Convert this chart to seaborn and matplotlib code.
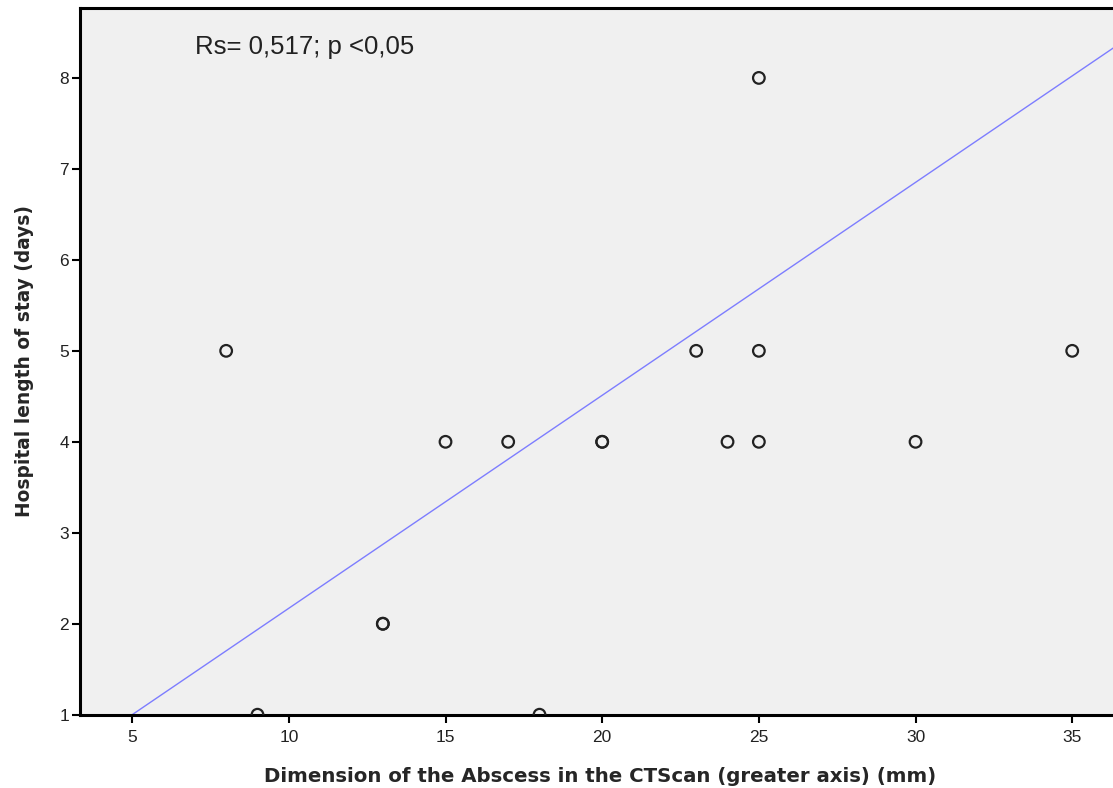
import numpy as np
import pandas as pd
import seaborn as sns
import matplotlib.pyplot as plt

abscess_mm = [8, 9, 13, 13, 15, 17, 18, 20, 20, 23, 24, 25, 25, 25, 30, 35]
stay_days = [5, 1, 2, 2, 4, 4, 1, 4, 4, 5, 4, 8, 5, 4, 4, 5]

fit_x = [5, 36.4]
fit_y = [1, 8.35]

x_ticks = [5, 10, 15, 20, 25, 30, 35]
y_ticks = [1, 2, 3, 4, 5, 6, 7, 8]

if __name__ == "__main__":
    sns.set_style("white")
    plt.rcParams["font.family"] = ["Liberation Sans", "DejaVu Sans"]

    df = pd.DataFrame({"x": abscess_mm, "y": stay_days})
    line = pd.DataFrame({"x": fit_x, "y": fit_y})

    fig = plt.figure(figsize=(11.13, 7.88), dpi=100)
    ax = fig.add_axes([0.072, 0.093, 0.935, 0.897])
    ax.set_facecolor("#f0f0f0")

    sns.lineplot(data=line, x="x", y="y", ax=ax, color="#7d7dff", linewidth=1.0)
    sns.scatterplot(data=df, x="x", y="y", ax=ax, marker="o", s=70,
                    facecolor="none", edgecolor="#222222", linewidth=1.6, zorder=3)

    ax.set_xlim(3.34, 36.55)
    ax.set_ylim(1, 8.77)
    ax.set_xticks(x_ticks)
    ax.set_yticks(y_ticks)
    ax.tick_params(axis="both", direction="out", length=6, width=1.5,
                   color="black", labelsize=12.5, labelcolor="#222222", pad=2,
                   bottom=True, left=True)
    ax.tick_params(axis="x", pad=5)
    for s in ["left", "bottom", "top"]:
        ax.spines[s].set_linewidth(2.2)
        ax.spines[s].set_color("black")
    ax.spines["right"].set_visible(False)

    ax.set_xlabel("Dimension of the Abscess in the CTScan (greater axis) (mm)",
                  fontsize=14.2, fontweight="bold", family="DejaVu Sans", labelpad=16)
    ax.set_ylabel("Hospital length of stay (days)",
                  fontsize=13.4, fontweight="bold", family="DejaVu Sans", labelpad=18)

    ax.text(7.0, 8.34, "Rs= 0,517; p <0,05", fontsize=18.5, va="center",
            ha="left", color="#222222")

    plt.savefig("out.png", dpi=100)
